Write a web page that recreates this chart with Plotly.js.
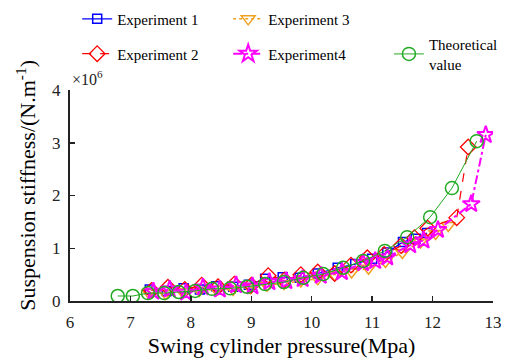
<!DOCTYPE html>
<html>
<head>
<meta charset="utf-8">
<script src="https://cdn.plot.ly/plotly-3.0.1.min.js"></script>
<style>html,body{margin:0;padding:0;background:#fff;}#chart{width:511px;height:358px;}</style>
</head>
<body>
<div id="chart"></div>
<script>
// Swing cylinder pressure (MPa) and suspension stiffness (x10^6 N/m)
var p1 = [7.32, 7.60, 7.88, 8.15, 8.42, 8.70, 8.96, 9.23, 9.52, 9.80, 10.10, 10.43, 10.72, 11.00, 11.25, 11.51, 11.72, 11.91];
var s1 = [0.22, 0.19, 0.24, 0.22, 0.28, 0.27, 0.31, 0.42, 0.45, 0.44, 0.52, 0.63, 0.70, 0.80, 0.92, 1.12, 1.18, 1.29];

var p2 = [7.35, 7.62, 7.90, 8.18, 8.45, 8.72, 9.00, 9.28, 9.55, 9.82, 10.10, 10.38, 10.65, 10.92, 11.20, 11.48, 11.70, 11.92, 12.40, 12.59];
var s2 = [0.20, 0.26, 0.22, 0.30, 0.27, 0.32, 0.30, 0.48, 0.40, 0.50, 0.55, 0.52, 0.68, 0.82, 0.88, 1.05, 1.20, 1.38, 1.58, 2.92];

var p3 = [7.30, 7.58, 7.86, 8.14, 8.42, 8.70, 8.98, 9.26, 9.54, 9.82, 10.10, 10.38, 10.66, 10.94, 11.22, 11.50, 11.80, 12.05, 12.26];
var s3 = [0.16, 0.14, 0.18, 0.20, 0.22, 0.22, 0.25, 0.30, 0.33, 0.38, 0.42, 0.50, 0.55, 0.62, 0.75, 0.92, 1.12, 1.28, 1.43];

var p4 = [7.38, 7.65, 7.92, 8.20, 8.48, 8.75, 9.02, 9.30, 9.58, 9.85, 10.15, 10.50, 10.85, 11.05, 11.25, 11.63, 11.85, 12.09, 12.64, 12.88];
var s4 = [0.18, 0.22, 0.16, 0.26, 0.22, 0.30, 0.28, 0.36, 0.38, 0.42, 0.48, 0.55, 0.72, 0.76, 0.83, 1.06, 1.15, 1.35, 1.84, 3.15];

var pTheo = [6.79, 7.04, 7.29, 7.56, 7.80, 8.07, 8.35, 8.65, 8.93, 9.23, 9.54, 9.86, 10.19, 10.52, 10.85, 11.21, 11.58, 11.96, 12.32, 12.73];
var sTheo = [0.095, 0.095, 0.15, 0.15, 0.17, 0.19, 0.23, 0.24, 0.27, 0.32, 0.36, 0.44, 0.51, 0.63, 0.76, 0.95, 1.21, 1.59, 2.14, 3.03];

var xTickVals = [6, 7, 8, 9, 10, 11, 12, 13];
var yTickVals = [0, 1, 2, 3, 4];
var yTickText = ['0', '1', '2', '3', '4'];

var serif = 'Liberation Serif';

var traces = [
  {x: p1, y: s1, name: 'Experiment 1', type: 'scatter', mode: 'lines+markers', legend: 'legend',
   line: {color: '#0000ff', width: 1.2},
   marker: {symbol: 'square-open', size: 9, color: '#0000ff', line: {width: 1.5, color: '#0000ff'}}},
  {x: p3, y: s3, name: 'Experiment 3', type: 'scatter', mode: 'lines+markers', legend: 'legend',
   line: {color: '#f0a020', width: 1.5, dash: 'dot'},
   marker: {symbol: 'triangle-down-open', size: 12, color: '#f0a020', line: {width: 1.5, color: '#f0a020'}}},
  {x: p2, y: s2, name: 'Experiment 2', type: 'scatter', mode: 'lines+markers', legend: 'legend2',
   line: {color: '#ff0000', width: 1.2, dash: 'dash'},
   marker: {symbol: 'diamond-open', size: 12, color: '#ff0000', line: {width: 1.3, color: '#ff0000'}}},
  {x: p4, y: s4, name: 'Experiment4', type: 'scatter', mode: 'lines+markers', legend: 'legend2',
   line: {color: '#ff00ff', width: 2, dash: 'dashdot'},
   marker: {symbol: 'star-open', size: 13, color: '#ff00ff', line: {width: 2, color: '#ff00ff'}}},
  {x: pTheo, y: sTheo, name: 'Theoretical<br>value', type: 'scatter', mode: 'lines+markers', legend: 'legend3',
   line: {color: '#22aa22', width: 1},
   marker: {symbol: 'circle-open', size: 13, color: '#22aa22', line: {width: 1.5, color: '#22aa22'}}}
];

var legendCommon = {
  orientation: 'h',
  xanchor: 'left',
  yanchor: 'middle',
  bgcolor: 'rgba(0,0,0,0)',
  font: {family: serif, size: 15, color: '#000'},
  entrywidth: 106,
  entrywidthmode: 'pixels',
  itemclick: false
};

var layout = {
  width: 511,
  height: 358,
  margin: {l: 70, r: 18, t: 90, b: 57, autoexpand: false},
  paper_bgcolor: '#ffffff',
  plot_bgcolor: '#ffffff',
  font: {family: serif, color: '#000'},
  showlegend: true,
  legend: Object.assign({}, legendCommon, {x: 0.017, y: 1.336}),
  legend2: Object.assign({}, legendCommon, {x: 0.017, y: 1.171}),
  legend3: Object.assign({}, legendCommon, {x: 0.754, y: 1.171, entrywidth: 70}),
  xaxis: {
    range: [6, 13],
    tickvals: xTickVals,
    ticks: 'inside',
    ticklen: 5,
    tickwidth: 1.5,
    tickcolor: '#222',
    showline: true,
    linecolor: '#222',
    linewidth: 2,
    mirror: false,
    showgrid: false,
    zeroline: false,
    automargin: false,
    ticklabelstandoff: 5,
    tickfont: {family: serif, size: 17, color: '#222'},
    title: {text: 'Swing cylinder pressure(Mpa)', font: {family: serif, size: 22, color: '#000'}, standoff: 12}
  },
  yaxis: {
    range: [0, 4],
    tickvals: yTickVals,
    ticktext: yTickText,
    ticks: 'inside',
    ticklen: 5,
    tickwidth: 1.5,
    tickcolor: '#222',
    showline: true,
    linecolor: '#222',
    linewidth: 2,
    mirror: false,
    showgrid: false,
    zeroline: false,
    automargin: false,
    ticklabelstandoff: 4,
    tickfont: {family: serif, size: 17, color: '#222'}
  },
  annotations: [
    {xref: 'paper', yref: 'paper', x: 0.0, y: 1.0, xanchor: 'left', yanchor: 'bottom', showarrow: false,
     text: '×10<sup>6</sup>', font: {family: serif, size: 16, color: '#222'}},
    {xref: 'paper', yref: 'paper', x: -0.106, y: 0.547, xanchor: 'center', yanchor: 'middle', showarrow: false,
     textangle: -90, text: 'Suspension stiffness/(N.m<sup>-1</sup>)', font: {family: serif, size: 22, color: '#000'}}
  ]
};

Plotly.newPlot('chart', traces, layout, {displayModeBar: false, staticPlot: true});
</script>
</body>
</html>
